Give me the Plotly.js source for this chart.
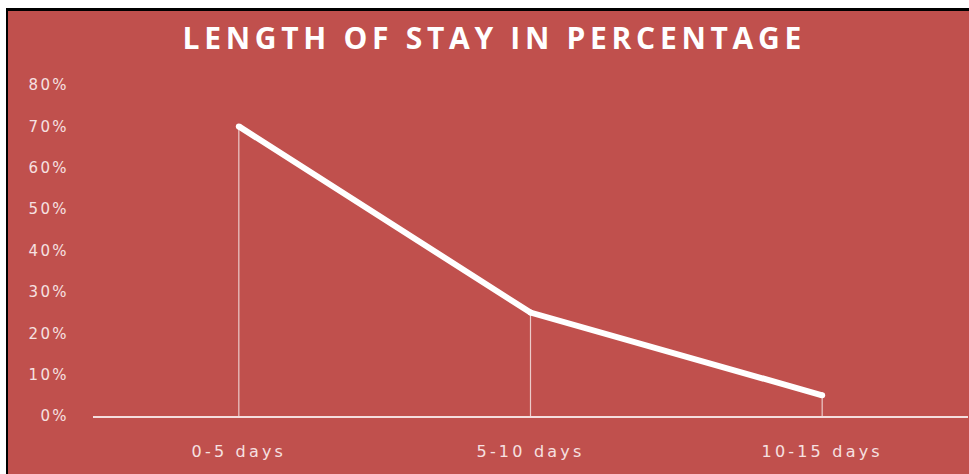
<!DOCTYPE html>
<html>
<head>
<meta charset="utf-8">
<script src="https://cdn.plot.ly/plotly-3.0.1.min.js"></script>
<style>
  html, body { margin: 0; padding: 0; background: #ffffff; width: 969px; height: 474px; overflow: hidden; }
  #frame {
    position: absolute; left: 6px; top: 8px;
    border-left: 2px solid #000; border-top: 3px solid #000;
    width: 961px; height: 463px;
  }
  #chart { width: 961px; height: 463px; }
  .gtitle { letter-spacing: 4.7px; }
  .xtick text { letter-spacing: 3.2px; }
  .ytick text { letter-spacing: 2.4px; }
</style>
</head>
<body>
<div id="frame"><div id="chart"></div></div>
<script>
// Share of patients by length of stay
const categories = ['0-5 days', '5-10 days', '10-15 days'];
const shares = [0.70, 0.25, 0.05];
const tickValues = [0, 0.1, 0.2, 0.3, 0.4, 0.5, 0.6, 0.7, 0.8];
const tickLabels = ['0%', '10%', '20%', '30%', '40%', '50%', '60%', '70%', '80%'];

const red = '#C0504D';
const labelColor = '#f6e1e1';

const trace = {
  type: 'scatter',
  mode: 'lines+markers',
  x: categories,
  y: shares,
  line: { color: '#ffffff', width: 6 },
  marker: { color: '#ffffff', size: 6 },
  // drop lines from each point down to the axis
  error_y: {
    type: 'data',
    symmetric: false,
    array: shares.map(() => 0),
    arrayminus: shares,
    width: 0,
    thickness: 1.2,
    color: 'rgba(255,255,255,0.7)'
  },
  hoverinfo: 'x+y'
};

const layout = {
  width: 961,
  height: 463,
  paper_bgcolor: red,
  plot_bgcolor: red,
  margin: { l: 85, r: 1, t: 74, b: 58 },
  showlegend: false,
  title: {
    text: '<b>LENGTH OF STAY IN PERCENTAGE</b>',
    font: { family: 'Open Sans', size: 30, color: '#ffffff' },
    xref: 'container', x: 0.506, xanchor: 'center',
    yref: 'container', y: 0.94, yanchor: 'middle'
  },
  xaxis: {
    type: 'category',
    range: [-0.5, 2.5],
    showline: true,
    linecolor: '#f4dede',
    linewidth: 1.5,
    showgrid: false,
    zeroline: false,
    ticks: '',
    ticklabelstandoff: 20,
    tickfont: { family: 'DejaVu Sans', size: 16, color: labelColor }
  },
  yaxis: {
    range: [0, 0.8],
    tickvals: tickValues,
    ticktext: tickLabels,
    showline: false,
    showgrid: false,
    zeroline: false,
    ticks: '',
    ticklabelstandoff: 23,
    tickfont: { family: 'DejaVu Sans', size: 15, color: labelColor }
  }
};

Plotly.newPlot('chart', [trace], layout, { displayModeBar: false, staticPlot: true });
</script>
</body>
</html>
